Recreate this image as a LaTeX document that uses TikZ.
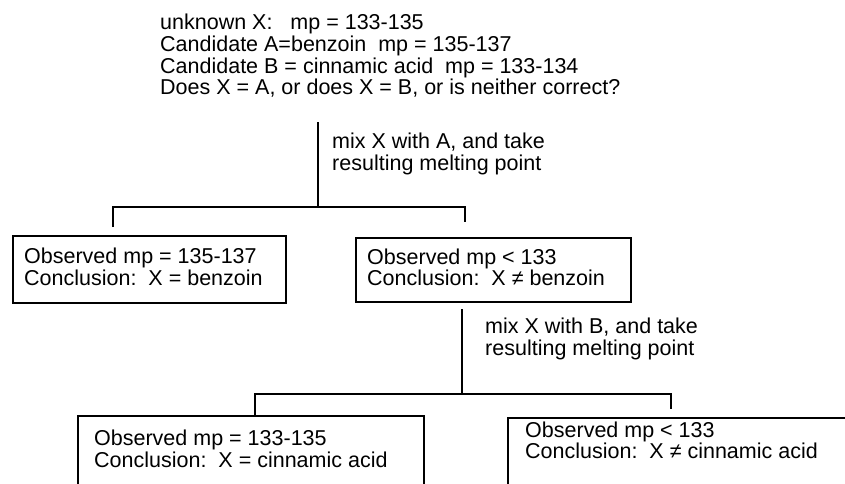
\documentclass[tikz,border=0pt]{standalone}
\usepackage{fontspec}
\setmainfont{Liberation Sans}
\newcommand\diagfs{\fontsize{21.5}{21.7}\selectfont}
\begin{document}
\begin{tikzpicture}[x=1pt,y=-1pt,
  txt/.style={anchor=base west, inner sep=0pt, font=\diagfs},
  boxnode/.style={draw, line width=2pt, anchor=north west, inner sep=0pt},
  conn/.style={draw, line width=2pt, line join=miter}]
\clip (0,0) rectangle (845,484);
% top text
\node[txt] (t1) at (160,30) {unknown X:\ \ \ mp = 133-135};
\node[txt] (t2) at (160,52) {Candidate A=benzoin\ \ mp = 135-137};
\node[txt] (t3) at (160,73.5) {Candidate B = cinnamic acid\ \ mp = 133-134};
\node[txt] (t4) at (160,95) {Does X = A, or does X = B, or is neither correct?};
% first step label
\node[txt] (la1) at (332,148) {mix X with A, and take};
\node[txt] (la2) at (332,170) {resulting melting point};
% boxes
\node[boxnode, minimum width=273pt, minimum height=67pt] (boxA) at (12,235) {};
\node[boxnode, minimum width=275pt, minimum height=64pt] (boxB) at (355,237) {};
\node[boxnode, minimum width=346pt, minimum height=100pt] (boxC) at (77,415) {};
\node[boxnode, minimum width=400pt, minimum height=100pt] (boxD) at (507,417) {};
% box texts
\node[txt] (a1) at (24,263) {Observed mp = 135-137};
\node[txt] (a2) at (24,285) {Conclusion:\ \ X = benzoin};
\node[txt] (b1) at (367,264) {Observed mp < 133};
\node[txt] (b2) at (367,285) {Conclusion:\ \ X ≠ benzoin};
\node[txt] (c1) at (94,445) {Observed mp = 133-135};
\node[txt] (c2) at (94,467) {Conclusion:\ \ X = cinnamic acid};
\node[txt] (d1) at (525,437) {Observed mp < 133};
\node[txt] (d2) at (525,458) {Conclusion:\ \ X ≠ cinnamic acid};
% second step label
\node[txt] (lb1) at (485,333) {mix X with B, and take};
\node[txt] (lb2) at (485,355) {resulting melting point};
% connectors, first split
\coordinate (s1) at (318,122);
\coordinate (j1) at (318,207);
\coordinate (l1) at (113,207);
\coordinate (r1) at (465,207);
\coordinate (l1e) at (113,227);
\coordinate (r1e) at (465,222);
\draw[conn] (s1) -- (j1);
\draw[conn] (l1e) -- (l1) -- (r1) -- (r1e);
% connectors, second split
\coordinate (s2) at (462,309);
\coordinate (j2) at (462,394);
\coordinate (l2) at (255,394);
\coordinate (r2) at (671,394);
\coordinate (r2e) at (671,409);
\draw[conn] (s2) -- (j2);
\draw[conn] (l2 |- boxC.north) -- (l2) -- (r2) -- (r2e);
\end{tikzpicture}
\end{document}
